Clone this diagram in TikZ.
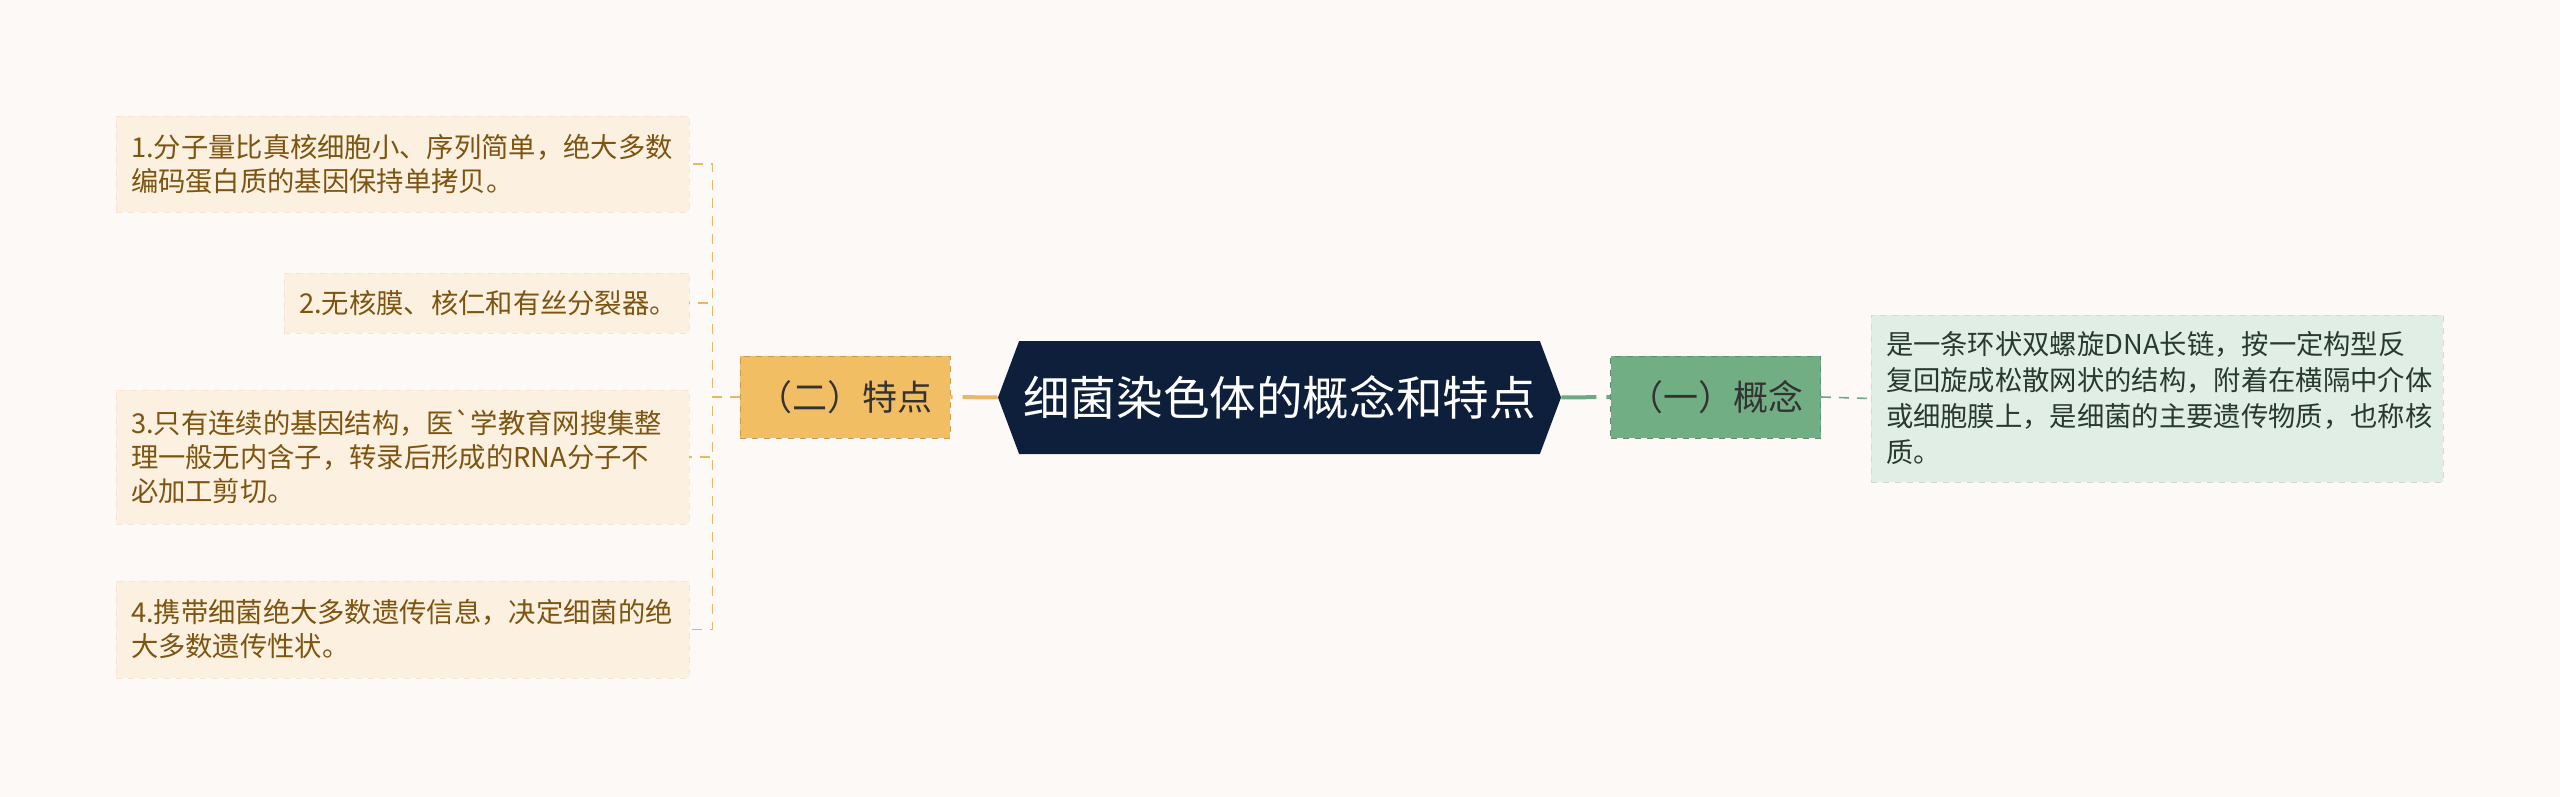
\documentclass[tikz,border=0pt]{standalone}
\usepackage{fontspec}
\newfontfamily\cjk{Noto Sans CJK SC}
\usetikzlibrary{shapes.symbols}

\definecolor{paper}{HTML}{FCF9F7}
\definecolor{leafbg}{HTML}{FCF0E0}
\definecolor{leaftx}{HTML}{7D5410}
\definecolor{orangebg}{HTML}{F2BE64}
\definecolor{orangeln}{HTML}{EBB766}
\definecolor{rootbg}{HTML}{0E1F3B}
\definecolor{greenbg}{HTML}{72AE83}
\definecolor{greenln}{HTML}{6CA985}
\definecolor{conceptbg}{HTML}{E1EEE5}
\definecolor{concepttx}{HTML}{28392D}

\tikzstyle{leaf} = [rectangle,
    fill=leafbg,
    draw=leafbg!90!brown,
    dashed,
    text=leaftx,
    font=\cjk\fontsize{13.66}{17}\selectfont,
    align=left,
    inner xsep=7.5pt,
    inner ysep=0pt]
\tikzstyle{branch} = [rectangle,
    dashed,
    font=\cjk\fontsize{17.5}{20}\selectfont,
    minimum width=105pt,
    minimum height=41pt,
    inner sep=0pt]
\tikzstyle{root} = [signal,
    signal to=west and east,
    signal pointer angle=139,
    fill=rootbg,
    text=white,
    font=\cjk\fontsize{23.3}{26}\selectfont,
    minimum width=281.5pt,
    minimum height=56.5pt,
    inner sep=0pt]
\tikzstyle{orangedash} = [draw=orangeln, line width=0.8pt, dash pattern=on 5pt off 4pt]
\tikzstyle{greendash} = [draw=greenln, line width=0.8pt, dash pattern=on 5pt off 4pt]
\tikzstyle{mainline} = [line width=2pt, dash pattern=on 17.5pt off 5pt]

\begin{document}
\begin{tikzpicture}[x=0.5pt, y=-0.5pt]
    \useasboundingbox[fill=paper] (0,0) rectangle (2560,797);

    % center
    \node (root) [root] at (1279.5,397.5) {细菌染色体的概念和特点};

    % left side
    \node (tedian) [branch, fill=orangebg, draw=orangebg!82!black, text=black!80] at (845,397) {（二）特点};
    \node (leafa) [leaf, text width=271.5pt, minimum height=48pt] at (402.5,164)
        {1.分子量比真核细胞小、序列简单，绝大多数\\编码蛋白质的基因保持单拷贝。};
    \node (leafb) [leaf, text width=187.5pt, minimum height=30pt] at (486.5,303)
        {2.无核膜、核仁和有丝分裂器。};
    \node (leafc) [leaf, text width=271.5pt, minimum height=67pt] at (402.5,457)
        {3.只有连续的基因结构，医`学教育网搜集整\\理一般无内含子，转录后形成的RNA分子不\\必加工剪切。};
    \node (leafd) [leaf, text width=271.5pt, minimum height=48.5pt] at (402.5,629.5)
        {4.携带细菌绝大多数遗传信息，决定细菌的绝\\大多数遗传性状。};

    % right side
    \node (gainian) [branch, fill=greenbg, draw=greenbg!82!black, text=black!80] at (1715.5,397) {（一）概念};
    \node (concept) [leaf, fill=conceptbg, draw=conceptbg!92!black, text=concepttx,
        font=\cjk\fontsize{13.66}{18}\selectfont, text width=271pt, minimum height=83.5pt] at (2157,398.5)
        {是一条环状双螺旋DNA长链，按一定构型反\\复回旋成松散网状的结构，附着在横隔中介体\\或细胞膜上，是细菌的主要遗传物质，也称核\\质。};

    \draw [mainline, draw=orangeln] (root.west) -- (tedian.east);
    \draw [mainline, draw=greenln] (root.east) -- (gainian.west);
    \draw [greendash] (gainian.east) -- (concept.west);
    \draw [orangedash] (tedian.west) -- ++(-27,0) |- (leafa.east);
    \draw [orangedash] (tedian.west) -- ++(-27,0) |- (leafb.east);
    \draw [orangedash] (tedian.west) -- ++(-27,0) |- (leafc.east);
    \draw [orangedash] (tedian.west) -- ++(-27,0) |- (leafd.east);
\end{tikzpicture}
\end{document}
